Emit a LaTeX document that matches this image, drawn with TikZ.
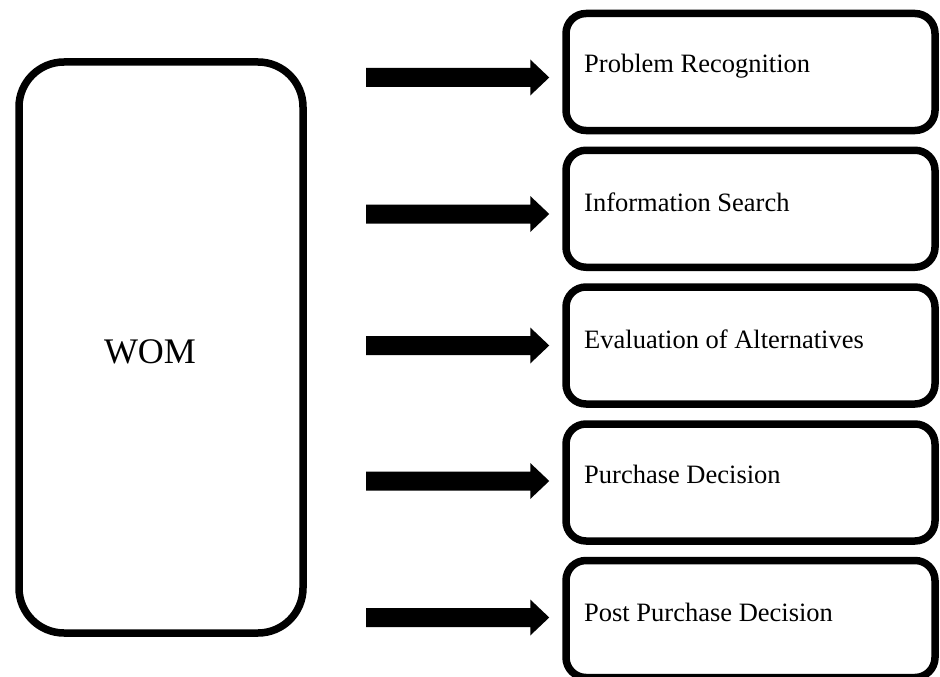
\documentclass[tikz,border=0pt]{standalone}
\usepackage{fontspec}
\setmainfont{Liberation Serif}
\usetikzlibrary{calc}
\newcommand\fatarrow[2]{%
  \fill[arrowfill] ($(#1)+(0,-9.5)$) -- ($(#2.west |- #1)+(-32,-9.5)$) -- ($(#2.west |- #1)+(-32,-18)$) -- ($(#2.west |- #1)+(-13,0)$) -- ($(#2.west |- #1)+(-32,18)$) -- ($(#2.west |- #1)+(-32,9.5)$) -- ($(#1)+(0,9.5)$) -- cycle;}
\begin{document}
\begin{tikzpicture}[x=1pt,y=-1pt,
  womstyle/.style={draw=black, line width=7.5pt, rounded corners=45pt, minimum width=284pt, minimum height=571pt, inner sep=0pt},
  stagebox/.style={draw=black, line width=7.5pt, rounded corners=20pt, minimum width=369pt, minimum height=117pt, inner sep=0pt},
  stagetext/.style={anchor=base west, inner sep=0pt, font=\fontsize{26.5}{30}\selectfont},
  womtext/.style={anchor=base, inner sep=0pt, font=\fontsize{36}{40}\selectfont},
  arrowfill/.style={fill=black}]
\useasboundingbox[fill=white] (0,0) rectangle (940,677);

\node[womstyle] (wom) at (161,347.5) {};
\node[womtext] (womlabel) at (150,363) {WOM};

\node[stagebox] (b1) at (750.5,72) {};
\node[stagebox] (b2) at (750.5,208.75) {};
\node[stagebox] (b3) at (750.5,345.5) {};
\node[stagebox] (b4) at (750.5,482.5) {};
\node[stagebox] (b5) at (750.5,619) {};

\node[stagetext] (t1) at (584,73) {Problem Recognition};
\node[stagetext] (t2) at (584,211) {Information Search};
\node[stagetext] (t3) at (584,348) {Evaluation of Alternatives};
\node[stagetext] (t4) at (584,483) {Purchase Decision};
\node[stagetext] (t5) at (584,621) {Post Purchase Decision};

\coordinate (s1) at (366,77.5);
\coordinate (s2) at (366,214);
\coordinate (s3) at (366,345.5);
\coordinate (s4) at (366,481);
\coordinate (s5) at (366,617.5);

\fatarrow{s1}{b1}
\fatarrow{s2}{b2}
\fatarrow{s3}{b3}
\fatarrow{s4}{b4}
\fatarrow{s5}{b5}
\end{tikzpicture}
\end{document}
